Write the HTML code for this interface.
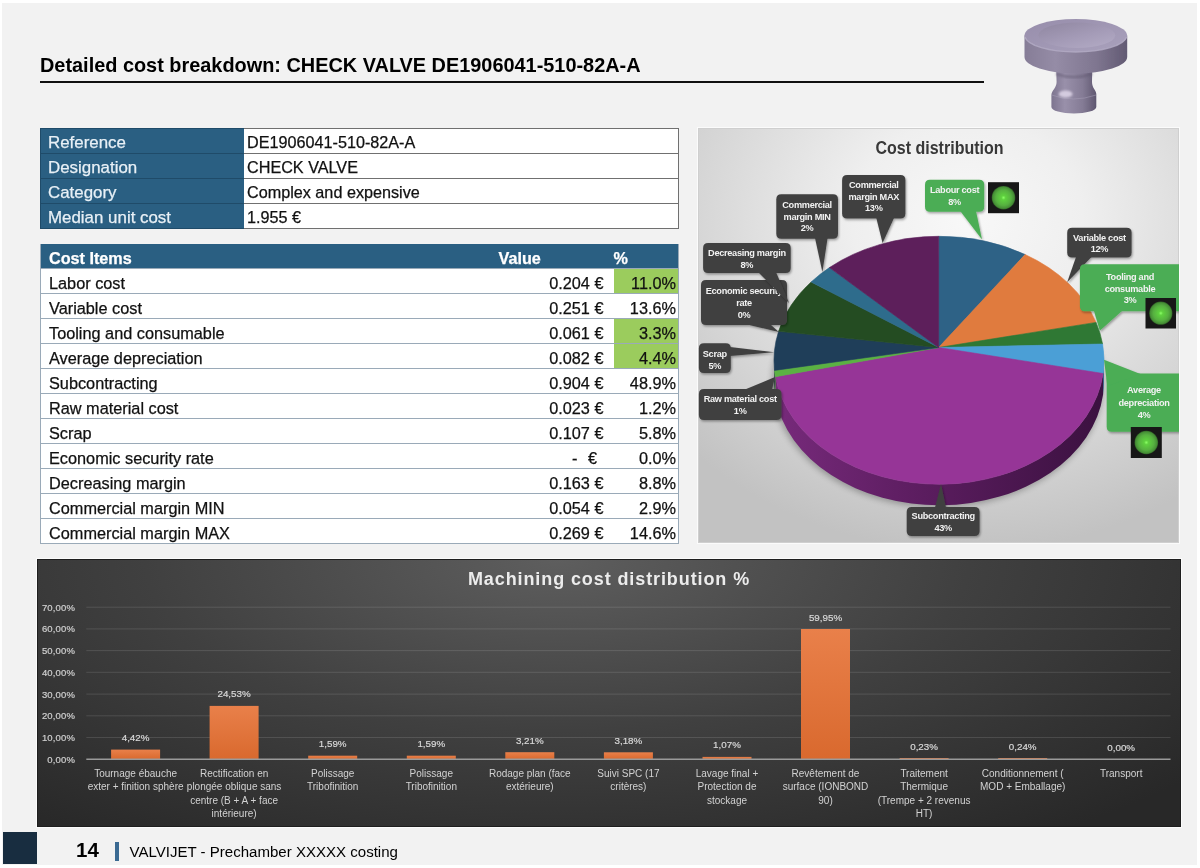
<!DOCTYPE html>
<html><head><meta charset="utf-8">
<style>
*{margin:0;padding:0;box-sizing:border-box}
html,body{width:1200px;height:868px;overflow:hidden;background:#fff;font-family:"Liberation Sans",sans-serif}
#wrap{position:absolute;left:0;top:0;width:1200px;height:868px;will-change:transform}
#page{position:absolute;left:2px;top:3px;width:1195px;height:862px;background:#f2f2f2}
.abs{position:absolute}
#title{position:absolute;left:40px;top:53px;font-size:19.9px;font-weight:bold;color:#000;white-space:nowrap;line-height:24px}
#rule{position:absolute;left:40px;top:81px;width:944px;height:2px;background:#111}
table{border-collapse:collapse;position:absolute;font-size:16px;color:#111;-webkit-text-stroke:0.25px currentColor}
#t1{left:40px;top:128px;width:639px}
#t1 td{height:25px;border:1px solid #707070;padding:3px 0 0 8px;line-height:21px;white-space:nowrap;vertical-align:top}
#t1 td.h{background:#2a5f82;color:#e8f0f6;width:203px;padding-left:7px;font-size:16.9px;border-color:#1f4b69;border-right:none}
#t1 td.v{background:#fff;padding-left:3px;font-size:16.2px;border-left-color:#2a5f82}
#t2{left:40px;top:244px;width:639px}
#t2 td{height:25px;border-top:1px solid #9aaab8;border-bottom:1px solid #9aaab8;padding-top:4.5px;line-height:19.5px;white-space:nowrap;background:#fff;vertical-align:top;font-size:16.3px}
#t2 tr.hd td{font-size:16.2px;padding-top:4.5px;line-height:19.5px;height:24px}
#t2 tr.hd td{background:#2a5f82;color:#fff;font-weight:bold;border:none}
#t2 td.n{padding-left:8px}
#t2 td.val{text-align:right;padding-right:10px}
#t2 td.pc{text-align:right;padding-right:2px;width:65px}
#t2 td.g{background:#9bcc5d}
#t2{border-left:1px solid #9aaab8;border-right:1px solid #9aaab8}
svg text{font-family:"Liberation Sans",sans-serif}
.pt{font-size:18.5px;font-weight:bold;fill:#383838;text-anchor:middle}
.cl{font-size:9.2px;font-weight:bold;fill:#f2f2f2;text-anchor:middle;letter-spacing:-0.3px}
.bt{font-size:18px;font-weight:bold;fill:#ececec;text-anchor:middle;letter-spacing:0.9px}
.ya{font-size:9.5px;fill:#d0d0d0;text-anchor:end;letter-spacing:0.15px;stroke:#d0d0d0;stroke-width:0.2px}
.dl{font-size:9.8px;fill:#d8d8d8;text-anchor:middle;stroke:#d8d8d8;stroke-width:0.2px}
.cat{font-size:10px;fill:#d2d2d2;text-anchor:middle}

</style></head><body><div id="wrap">
<div id="page"></div>
<div id="title">Detailed cost breakdown: CHECK VALVE DE1906041-510-82A-A</div>
<div id="rule"></div>
<table id="t1">
<tr><td class="h">Reference</td><td class="v">DE1906041-510-82A-A</td></tr>
<tr><td class="h">Designation</td><td class="v">CHECK VALVE</td></tr>
<tr><td class="h">Category</td><td class="v">Complex and expensive</td></tr>
<tr><td class="h">Median unit cost</td><td class="v">1.955 €</td></tr>
</table>
<table id="t2">
<tr class="hd"><td class="n">Cost Items</td><td class="val" style="text-align:left;padding-left:0;padding-right:0;width:115px">Value</td><td class="pc" style="text-align:left;padding-left:0">%</td></tr>
<tr><td class="n">Labor cost</td><td class="val">0.204 €</td><td class="pc g">11.0%</td></tr>
<tr><td class="n">Variable cost</td><td class="val">0.251 €</td><td class="pc">13.6%</td></tr>
<tr><td class="n">Tooling and consumable</td><td class="val">0.061 €</td><td class="pc g">3.3%</td></tr>
<tr><td class="n">Average depreciation</td><td class="val">0.082 €</td><td class="pc g">4.4%</td></tr>
<tr><td class="n">Subcontracting</td><td class="val">0.904 €</td><td class="pc">48.9%</td></tr>
<tr><td class="n">Raw material cost</td><td class="val">0.023 €</td><td class="pc">1.2%</td></tr>
<tr><td class="n">Scrap</td><td class="val">0.107 €</td><td class="pc">5.8%</td></tr>
<tr><td class="n">Economic security rate</td><td class="val" style="padding-right:16.5px">-<span style="display:inline-block;width:10.5px"></span>€</td><td class="pc">0.0%</td></tr>
<tr><td class="n">Decreasing margin</td><td class="val">0.163 €</td><td class="pc">8.8%</td></tr>
<tr><td class="n">Commercial margin MIN</td><td class="val">0.054 €</td><td class="pc">2.9%</td></tr>
<tr><td class="n">Commercial margin MAX</td><td class="val">0.269 €</td><td class="pc">14.6%</td></tr>
</table>
<svg class="abs" style="left:1015px;top:10px" width="120" height="110" viewBox="0 0 120 110">
<defs>
<linearGradient id="vside" x1="0" y1="0" x2="1" y2="0">
<stop offset="0" stop-color="#867d97"/><stop offset="0.3" stop-color="#958ca6"/><stop offset="0.7" stop-color="#7f7690"/><stop offset="1" stop-color="#625a73"/>
</linearGradient>
<linearGradient id="vstem" x1="0" y1="0" x2="1" y2="0">
<stop offset="0" stop-color="#7d748f"/><stop offset="0.3" stop-color="#9990aa"/><stop offset="0.7" stop-color="#847b95"/><stop offset="1" stop-color="#5f5770"/>
</linearGradient>
<linearGradient id="vtop" x1="0" y1="0" x2="1" y2="1">
<stop offset="0" stop-color="#978dab"/><stop offset="1" stop-color="#a9a1bc"/>
</linearGradient>
<linearGradient id="vin" x1="0" y1="0" x2="0.8" y2="1">
<stop offset="0" stop-color="#8f86a0"/><stop offset="0.6" stop-color="#a49bb7"/><stop offset="1" stop-color="#b1a9c3"/>
</linearGradient>
<radialGradient id="vhl" cx="0.3" cy="0.2" r="0.35">
<stop offset="0" stop-color="#e6def2"/><stop offset="1" stop-color="#e6def2" stop-opacity="0"/>
</radialGradient>
<filter id="vblur"><feGaussianBlur stdDeviation="0.5"/></filter>
<filter id="vblur2" x="-50%" y="-50%" width="200%" height="200%"><feGaussianBlur stdDeviation="1.2"/></filter>
</defs>
<g filter="url(#vblur)">
<!-- stem base -->
<path d="M41.2,60 L41.6,72 C41.6,78 36.8,80 36.4,85 L36.4,97 A22.45,6.5 0 0 0 81.3,97 L81.3,84 C81,80 77,78 77,72 L77.2,60 Z" fill="url(#vstem)"/>
<path d="M36.6,85 Q58,93 81.1,85" fill="none" stroke="#a79fb8" stroke-width="1" opacity="0.5"/>
<ellipse cx="50.6" cy="84" rx="7" ry="3.6" fill="#e8e0f2" opacity="0.75" filter="url(#vblur2)"/>
<path d="M41,64 Q59,70 77.3,64" fill="none" stroke="#5e566e" stroke-width="2.5" opacity="0.5" filter="url(#vblur2)"/>
<!-- disc side -->
<path d="M9.5,25.5 L9.5,47 A51.3,16.4 0 0 0 112.2,47 L112.2,25.5 Z" fill="url(#vside)"/>
<!-- top face -->
<ellipse cx="60.8" cy="25.5" rx="51.3" ry="16.4" fill="url(#vtop)"/>
<path d="M10,27 A51,16.4 0 0 0 111.6,27" fill="none" stroke="#b3abc4" stroke-width="1.4" opacity="0.8"/>
<ellipse cx="61.8" cy="25.3" rx="38.4" ry="12.7" fill="url(#vin)"/>
</g>
</svg>
<div class="abs" style="left:697px;top:127px;width:483px;height:417px;background:#fbfbfb"></div>
<svg class="abs" style="left:698px;top:128px" width="481" height="415" viewBox="0 0 481 415">
<defs>
<radialGradient id="pbg" cx="56%" cy="22%" r="80%">
<stop offset="0" stop-color="#f8f8f8"/><stop offset="0.3" stop-color="#efefef"/><stop offset="0.7" stop-color="#d6d6d6"/><stop offset="1" stop-color="#c2c2c2"/>
</radialGradient>
<linearGradient id="sideg" x1="0" y1="0" x2="1" y2="0">
<stop offset="0" stop-color="#772a7b"/><stop offset="0.4" stop-color="#5e1e62"/><stop offset="1" stop-color="#3b1140"/>
</linearGradient>
<radialGradient id="led" cx="50%" cy="50%" r="50%">
<stop offset="0" stop-color="#8cff66"/><stop offset="0.18" stop-color="#5fd13f"/><stop offset="0.65" stop-color="#56b040"/><stop offset="0.9" stop-color="#468f36"/><stop offset="1" stop-color="#2f5f25"/>
</radialGradient>
<filter id="pshd" x="-20%" y="-20%" width="140%" height="140%"><feGaussianBlur stdDeviation="3"/></filter>
<filter id="shd" x="-20%" y="-20%" width="140%" height="150%"><feDropShadow dx="1" dy="1.5" stdDeviation="1.2" flood-color="#000" flood-opacity="0.35"/></filter>
</defs>
<rect x="0" y="0" width="481" height="415" fill="url(#pbg)"/>
<rect x="0.5" y="0.5" width="480" height="414" fill="none" stroke="#cfcfcf" stroke-width="1"/>
<text x="241.5" y="26" class="pt" textLength="128" lengthAdjust="spacingAndGlyphs">Cost distribution</text>
<ellipse cx="240.0" cy="254.3" rx="166.0" ry="125.0" fill="#000" opacity="0.28" filter="url(#pshd)"/>
<path d="M406.0,232.3 A165.0,124.0 0 0 1 405.1,245.5 L405.1,266.5 A165.0,124.0 0 0 0 406.0,253.3 Z" fill="#2f6a92"/>
<path d="M405.1,245.5 A165.0,124.0 0 0 1 77.5,248.7 L77.5,269.7 A165.0,124.0 0 0 0 405.1,266.5 Z" fill="url(#sideg)"/>
<path d="M77.5,248.7 A165.0,124.0 0 0 1 76.5,242.4 L76.5,263.4 A165.0,124.0 0 0 0 77.5,269.7 Z" fill="#3b7a2c"/>
<path d="M76.5,242.4 A165.0,124.0 0 0 1 76.0,232.3 L76.0,253.3 A165.0,124.0 0 0 0 76.5,263.4 Z" fill="#142a3d"/>
<path d="M240.6,219.5 L240.6,108.3 A165.0,124.0 0 0 1 327.1,126.5 Z" fill="#2e6286" stroke="#2e6286" stroke-width="0.6"/>
<path d="M240.6,219.5 L327.1,126.5 A165.0,124.0 0 0 1 398.1,194.4 Z" fill="#e07b3e" stroke="#e07b3e" stroke-width="0.6"/>
<path d="M240.6,219.5 L398.1,194.4 A165.0,124.0 0 0 1 404.6,216.0 Z" fill="#2f7834" stroke="#2f7834" stroke-width="0.6"/>
<path d="M240.6,219.5 L404.6,216.0 A165.0,124.0 0 0 1 405.1,245.5 Z" fill="#4b9fd6" stroke="#4b9fd6" stroke-width="0.6"/>
<path d="M240.6,219.5 L405.1,245.5 A165.0,124.0 0 0 1 77.5,248.7 Z" fill="#963597" stroke="#963597" stroke-width="0.6"/>
<path d="M240.6,219.5 L77.5,248.7 A165.0,124.0 0 0 1 76.5,242.4 Z" fill="#5bb143" stroke="#5bb143" stroke-width="0.6"/>
<path d="M240.6,219.5 L76.5,242.4 A165.0,124.0 0 0 1 80.6,203.3 Z" fill="#1f3e59" stroke="#1f3e59" stroke-width="0.6"/>
<path d="M240.6,219.5 L80.6,203.3 A165.0,124.0 0 0 1 113.1,154.0 Z" fill="#244c22" stroke="#244c22" stroke-width="0.6"/>
<path d="M240.6,219.5 L113.1,154.0 A165.0,124.0 0 0 1 131.4,139.6 Z" fill="#2e6c8c" stroke="#2e6c8c" stroke-width="0.6"/>
<path d="M240.6,219.5 L131.4,139.6 A165.0,124.0 0 0 1 240.6,108.3 Z" fill="#5d1f5b" stroke="#5d1f5b" stroke-width="0.6"/>
<g filter="url(#shd)"><path d="M8.0,152.0 H84.0 Q89.0,152.0 89.0,157.0 V192.0 Q89.0,197.0 84.0,197.0 H8.0 Q3.0,197.0 3.0,192.0 V157.0 Q3.0,152.0 8.0,152.0 Z" fill="#414141"/><path d="M47.0,196.0 L72.0,196.0 L80.8,204.0 Z" fill="#414141"/></g>
<text x="46.0" y="165.9" class="cl">Economic security</text>
<text x="46.0" y="177.7" class="cl">rate</text>
<text x="46.0" y="189.7" class="cl">0%</text>
<g filter="url(#shd)"><path d="M10.1,115.0 H87.7 Q92.7,115.0 92.7,120.0 V140.0 Q92.7,145.0 87.7,145.0 H10.1 Q5.1,145.0 5.1,140.0 V120.0 Q5.1,115.0 10.1,115.0 Z" fill="#414141"/><path d="M60.0,144.0 L78.0,144.0 L91.0,175.0 Z" fill="#414141"/></g>
<text x="48.9" y="128.2" class="cl">Decreasing margin</text>
<text x="48.9" y="139.6" class="cl">8%</text>
<g filter="url(#shd)"><path d="M149.1,46.9 H202.4 Q207.4,46.9 207.4,51.9 V85.5 Q207.4,90.5 202.4,90.5 H149.1 Q144.1,90.5 144.1,85.5 V51.9 Q144.1,46.9 149.1,46.9 Z" fill="#414141"/><path d="M178.3,90.0 L196.0,90.0 L184.6,115.0 Z" fill="#414141"/></g>
<text x="175.8" y="60.1" class="cl">Commercial</text>
<text x="175.8" y="71.5" class="cl">margin MAX</text>
<text x="175.8" y="83.3" class="cl">13%</text>
<g filter="url(#shd)"><path d="M83.3,66.2 H135.0 Q140.0,66.2 140.0,71.2 V105.8 Q140.0,110.8 135.0,110.8 H83.3 Q78.3,110.8 78.3,105.8 V71.2 Q78.3,66.2 83.3,66.2 Z" fill="#414141"/><path d="M117.0,110.0 L129.6,110.0 L124.4,144.0 Z" fill="#414141"/></g>
<text x="109.1" y="80.4" class="cl">Commercial</text>
<text x="109.1" y="91.7" class="cl">margin MIN</text>
<text x="109.1" y="103.2" class="cl">2%</text>
<g filter="url(#shd)"><path d="M5.9,215.3 H27.8 Q32.8,215.3 32.8,220.3 V240.1 Q32.8,245.1 27.8,245.1 H5.9 Q0.9,245.1 0.9,240.1 V220.3 Q0.9,215.3 5.9,215.3 Z" fill="#414141"/><path d="M32.0,219.0 L32.0,228.0 L76.3,224.2 Z" fill="#414141"/></g>
<text x="16.8" y="229.0" class="cl">Scrap</text>
<text x="16.8" y="240.7" class="cl">5%</text>
<g filter="url(#shd)"><path d="M5.9,260.9 H78.5 Q83.5,260.9 83.5,265.9 V287.0 Q83.5,292.0 78.5,292.0 H5.9 Q0.9,292.0 0.9,287.0 V265.9 Q0.9,260.9 5.9,260.9 Z" fill="#414141"/><path d="M47.0,261.5 L74.0,261.5 L77.0,249.0 Z" fill="#414141"/></g>
<text x="42.2" y="274.2" class="cl">Raw material cost</text>
<text x="42.2" y="285.7" class="cl">1%</text>
<g filter="url(#shd)"><path d="M213.7,379.0 H276.6 Q281.6,379.0 281.6,384.0 V403.0 Q281.6,408.0 276.6,408.0 H213.7 Q208.7,408.0 208.7,403.0 V384.0 Q208.7,379.0 213.7,379.0 Z" fill="#414141"/><path d="M237.0,379.5 L248.0,379.5 L243.0,356.0 Z" fill="#414141"/></g>
<text x="245.2" y="391.2" class="cl">Subcontracting</text>
<text x="245.2" y="403.2" class="cl">43%</text>
<g filter="url(#shd)"><path d="M232.0,51.8 H281.2 Q286.2,51.8 286.2,56.8 V78.7 Q286.2,83.7 281.2,83.7 H232.0 Q227.0,83.7 227.0,78.7 V56.8 Q227.0,51.8 232.0,51.8 Z" fill="#4bad55"/><path d="M262.2,83.0 L278.0,83.0 L284.0,111.5 Z" fill="#4bad55"/></g>
<text x="256.6" y="65.2" class="cl">Labour cost</text>
<text x="256.6" y="77.2" class="cl">8%</text>
<g filter="url(#shd)"><path d="M374.2,99.7 H428.6 Q433.6,99.7 433.6,104.7 V124.4 Q433.6,129.4 428.6,129.4 H374.2 Q369.2,129.4 369.2,124.4 V104.7 Q369.2,99.7 374.2,99.7 Z" fill="#414141"/><path d="M378.0,129.0 L393.5,129.0 L369.2,154.3 Z" fill="#414141"/></g>
<text x="401.4" y="112.6" class="cl">Variable cost</text>
<text x="401.4" y="124.2" class="cl">12%</text>
<g filter="url(#shd)"><path d="M386.9,136.3 H482.0 Q487.0,136.3 487.0,141.3 V178.3 Q487.0,183.3 482.0,183.3 H386.9 Q381.9,183.3 381.9,178.3 V141.3 Q381.9,136.3 386.9,136.3 Z" fill="#4bad55"/><path d="M396.0,183.0 L424.0,183.0 L401.8,202.7 Z" fill="#4bad55"/></g>
<text x="432.0" y="151.9" class="cl">Tooling and</text>
<text x="432.0" y="164.1" class="cl">consumable</text>
<text x="432.0" y="175.4" class="cl">3%</text>
<g filter="url(#shd)"><path d="M413.7,245.6 H482.0 Q487.0,245.6 487.0,250.6 V298.7 Q487.0,303.7 482.0,303.7 H413.7 Q408.7,303.7 408.7,298.7 V250.6 Q408.7,245.6 413.7,245.6 Z" fill="#4bad55"/><path d="M406.0,231.7 L443.0,246.2 L409.3,258.0 Z" fill="#4bad55"/></g>
<text x="446.0" y="265.4" class="cl">Average</text>
<text x="446.0" y="277.8" class="cl">depreciation</text>
<text x="446.0" y="289.7" class="cl">4%</text>
<rect x="290.0" y="54.2" width="31.0" height="31.0" fill="#171717"/>
<circle cx="305.5" cy="69.7" r="11.8" fill="url(#led)"/>
<rect x="447.5" y="170.0" width="30.5" height="30.5" fill="#171717"/>
<circle cx="462.8" cy="185.2" r="11.6" fill="url(#led)"/>
<rect x="432.8" y="299.0" width="31.0" height="31.0" fill="#171717"/>
<circle cx="448.3" cy="314.5" r="11.8" fill="url(#led)"/>
</svg>
<div class="abs" style="left:36px;top:558px;width:1146px;height:270px;background:#fbfbfb"></div>
<svg class="abs" style="left:37px;top:559px" width="1144" height="268" viewBox="0 0 1144 268">
<defs>
<radialGradient id="bbg" cx="45%" cy="0%" r="80%" gradientTransform="translate(0.05,0) scale(0.9,1.6)">
<stop offset="0" stop-color="#5e5e5e"/><stop offset="0.5" stop-color="#404040"/><stop offset="1" stop-color="#282828"/>
</radialGradient>
<linearGradient id="barg" x1="0" y1="0" x2="0" y2="1">
<stop offset="0" stop-color="#e9804a"/><stop offset="1" stop-color="#d9692e"/>
</linearGradient>
</defs>
<rect x="0" y="0" width="1144" height="268" fill="url(#bbg)"/>
<rect x="0.5" y="0.5" width="1143" height="267" fill="none" stroke="#1e1e1e" stroke-width="1"/>
<text x="572" y="26.3" class="bt">Machining cost distribution %</text>
<line x1="49.3" y1="178.5" x2="1133.5" y2="178.5" stroke="#ffffff" stroke-opacity="0.12" stroke-width="1"/>
<line x1="49.3" y1="156.8" x2="1133.5" y2="156.8" stroke="#ffffff" stroke-opacity="0.12" stroke-width="1"/>
<line x1="49.3" y1="135.1" x2="1133.5" y2="135.1" stroke="#ffffff" stroke-opacity="0.12" stroke-width="1"/>
<line x1="49.3" y1="113.3" x2="1133.5" y2="113.3" stroke="#ffffff" stroke-opacity="0.12" stroke-width="1"/>
<line x1="49.3" y1="91.6" x2="1133.5" y2="91.6" stroke="#ffffff" stroke-opacity="0.12" stroke-width="1"/>
<line x1="49.3" y1="69.9" x2="1133.5" y2="69.9" stroke="#ffffff" stroke-opacity="0.12" stroke-width="1"/>
<line x1="49.3" y1="48.2" x2="1133.5" y2="48.2" stroke="#ffffff" stroke-opacity="0.12" stroke-width="1"/>
<text x="38.0" y="203.7" class="ya">0,00%</text>
<text x="38.0" y="182.0" class="ya">10,00%</text>
<text x="38.0" y="160.3" class="ya">20,00%</text>
<text x="38.0" y="138.6" class="ya">30,00%</text>
<text x="38.0" y="116.8" class="ya">40,00%</text>
<text x="38.0" y="95.1" class="ya">50,00%</text>
<text x="38.0" y="73.4" class="ya">60,00%</text>
<text x="38.0" y="51.7" class="ya">70,00%</text>
<rect x="74.1" y="190.6" width="49" height="9.6" fill="url(#barg)"/>
<text x="98.6" y="182.1" class="dl">4,42%</text>
<text x="98.6" y="218.0" class="cat">Tournage ébauche</text>
<text x="98.6" y="231.3" class="cat">exter + finition sphère</text>
<rect x="172.6" y="146.9" width="49" height="53.3" fill="url(#barg)"/>
<text x="197.1" y="138.4" class="dl">24,53%</text>
<text x="197.1" y="218.0" class="cat">Rectification en</text>
<text x="197.1" y="231.3" class="cat">plongée oblique sans</text>
<text x="197.1" y="244.6" class="cat">centre (B + A + face</text>
<text x="197.1" y="257.9" class="cat">intérieure)</text>
<rect x="271.2" y="196.7" width="49" height="3.5" fill="url(#barg)"/>
<text x="295.7" y="188.2" class="dl">1,59%</text>
<text x="295.7" y="218.0" class="cat">Polissage</text>
<text x="295.7" y="231.3" class="cat">Tribofinition</text>
<rect x="369.8" y="196.7" width="49" height="3.5" fill="url(#barg)"/>
<text x="394.3" y="188.2" class="dl">1,59%</text>
<text x="394.3" y="218.0" class="cat">Polissage</text>
<text x="394.3" y="231.3" class="cat">Tribofinition</text>
<rect x="468.3" y="193.2" width="49" height="7.0" fill="url(#barg)"/>
<text x="492.8" y="184.7" class="dl">3,21%</text>
<text x="492.8" y="218.0" class="cat">Rodage plan (face</text>
<text x="492.8" y="231.3" class="cat">extérieure)</text>
<rect x="566.9" y="193.3" width="49" height="6.9" fill="url(#barg)"/>
<text x="591.4" y="184.8" class="dl">3,18%</text>
<text x="591.4" y="218.0" class="cat">Suivi SPC (17</text>
<text x="591.4" y="231.3" class="cat">critères)</text>
<rect x="665.5" y="197.9" width="49" height="2.3" fill="url(#barg)"/>
<text x="690.0" y="189.4" class="dl">1,07%</text>
<text x="690.0" y="218.0" class="cat">Lavage final +</text>
<text x="690.0" y="231.3" class="cat">Protection de</text>
<text x="690.0" y="244.6" class="cat">stockage</text>
<rect x="764.0" y="70.0" width="49" height="130.2" fill="url(#barg)"/>
<text x="788.5" y="61.5" class="dl">59,95%</text>
<text x="788.5" y="218.0" class="cat">Revêtement de</text>
<text x="788.5" y="231.3" class="cat">surface (IONBOND</text>
<text x="788.5" y="244.6" class="cat">90)</text>
<rect x="862.6" y="199.0" width="49" height="1.2" fill="url(#barg)"/>
<text x="887.1" y="190.5" class="dl">0,23%</text>
<text x="887.1" y="218.0" class="cat">Traitement</text>
<text x="887.1" y="231.3" class="cat">Thermique</text>
<text x="887.1" y="244.6" class="cat">(Trempe + 2 revenus</text>
<text x="887.1" y="257.9" class="cat">HT)</text>
<rect x="961.2" y="199.0" width="49" height="1.2" fill="url(#barg)"/>
<text x="985.7" y="190.5" class="dl">0,24%</text>
<text x="985.7" y="218.0" class="cat">Conditionnement (</text>
<text x="985.7" y="231.3" class="cat">MOD + Emballage)</text>
<text x="1084.2" y="191.7" class="dl">0,00%</text>
<text x="1084.2" y="218.0" class="cat">Transport</text>
<line x1="49.3" y1="200.2" x2="1133.5" y2="200.2" stroke="#9a9a9a" stroke-width="1.5"/>
</svg>
<div class="abs" style="left:3px;top:832px;width:34px;height:32px;background:#182d40"></div>
<div class="abs" style="left:76px;top:838.5px;font-size:20.5px;font-weight:bold;line-height:22px">14</div>
<div class="abs" style="left:115px;top:842px;width:4px;height:19px;background:#3b6a92"></div>
<div class="abs" style="left:129.5px;top:842.5px;font-size:15.05px;line-height:18px">VALVIJET - Prechamber XXXXX costing</div>
</div></body></html>
